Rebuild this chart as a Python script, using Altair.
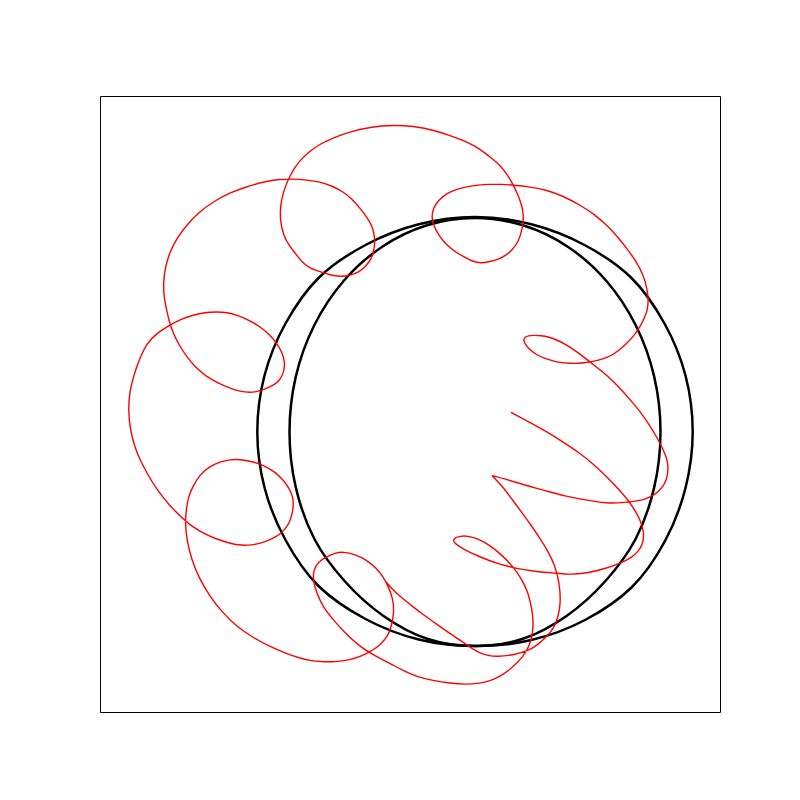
import altair as alt
import pandas as pd

# Red trajectory (pixel-like data units: x right, y down)
red_x = [511, 528, 546.7, 563, 580, 594, 606.7, 617, 626.7, 632, 636.7, 640.5, 643.3, 643.8, 642.5, 639, 632, 620, 604, 586.7, 570, 556.7, 535, 513.3, 498, 490, 477, 468, 460, 455, 453, 455, 460, 467, 480, 490, 502, 513, 521, 527, 530, 533, 533.3, 530, 523.3, 512, 500, 490, 480, 465, 450, 433, 416.7, 403, 390, 375, 360, 346, 333.3, 323, 316.7, 313, 313.5, 318, 326.7, 335, 343.3, 355, 366.7, 376, 383.3, 389, 393.3, 394, 391.5, 388, 381, 373.3, 362, 350, 335, 320, 310, 300, 285, 270, 253, 236.7, 222, 210, 199, 191.7, 187, 185, 186.5, 188.5, 192, 200, 210, 220, 230, 240, 252, 263.3, 275, 283.3, 289, 293, 293.5, 292, 289, 283, 276.7, 265, 253.3, 241, 230, 216, 203.3, 193, 184, 170, 157, 148, 140, 134, 130, 128.3, 129.5, 133.3, 139, 146.7, 157, 170, 181, 193.3, 205, 216.7, 227, 236.7, 249, 260, 269, 276.7, 282, 285, 284, 280, 274, 266.7, 258, 250, 240, 230, 218, 206.7, 196, 186.7, 179, 173.3, 169, 166.7, 164, 163.3, 165.5, 170, 177, 186.7, 199, 213.3, 229, 246.7, 263, 280, 293, 306.7, 320, 332, 343.3, 352, 360, 366.5, 371.7, 374, 375, 374, 371.7, 366.5, 360, 350, 340, 330, 320, 310, 302, 296.7, 289, 283.3, 280.5, 280, 283, 290, 299, 310, 320, 335, 350, 370, 393.3, 413, 433.3, 450, 466.7, 480, 490, 500, 507, 513.3, 518, 521.7, 523.3, 523.3, 521.5, 518.3, 513, 506.7, 499, 490, 480, 473, 466.7, 456, 446.7, 439, 433.3, 431.5, 433.3, 438.5, 446.7, 456, 466.7, 478, 490, 502, 513.3, 530, 546.7, 563, 580, 594, 606.7, 617, 626.7, 636, 643.3, 647, 648.5, 647.5, 645, 640, 633.3, 624, 613.3, 602, 590, 578, 570, 560, 553.3, 545, 536.7, 530, 525, 523.3, 525, 528.3, 533, 541, 549, 557, 566, 576, 587, 597, 607, 619, 630, 641, 650, 657, 663, 667, 668.3, 667.5, 665, 661, 656, 650, 643, 630, 617, 607, 595, 580, 565, 550, 535, 520, 505, 492, 492, 499, 506, 513, 521, 530, 541, 549, 554.5, 558, 560, 560.5, 558.3, 554, 546.7, 538, 530, 514, 496.7, 488, 480, 470, 459, 447, 435, 423, 412, 402, 393, 386]
red_y = [412.3, 421.5, 431.7, 442, 453.3, 464.5, 476.7, 487.5, 498.3, 506, 513.3, 521, 530, 537, 544, 550.5, 557.5, 563.3, 569, 573.3, 574.5, 573.3, 571.5, 568, 563.5, 561, 555.5, 551.5, 547, 543.5, 540.5, 537.5, 536.2, 535.7, 539.5, 545.5, 555, 566.7, 578, 590, 600, 615, 630, 645, 656.7, 668, 676.7, 681, 683.3, 684.5, 683.3, 680.5, 676.7, 670.5, 663.3, 656, 646.7, 634, 620, 607, 593.3, 580, 570, 562, 556.7, 553, 551.7, 554.5, 560, 568, 576.7, 588, 600, 613, 626, 636, 644, 650, 656, 660, 662, 661.7, 660.5, 658.3, 653, 646.7, 637.5, 626.7, 612, 596.7, 578, 560, 541, 523.3, 507, 497, 488, 474, 466.5, 461.7, 459.5, 459.3, 461.5, 465, 472, 480, 488, 497, 505, 515, 524, 531.5, 536.7, 542, 545, 545.5, 543.3, 539, 533.3, 527, 520, 506, 490, 475, 460, 445, 428, 410, 393, 376.7, 360, 343.3, 333, 325, 319, 315, 312.5, 311.7, 312.5, 315, 320, 326.7, 334, 343.3, 352, 361.7, 372, 380, 385, 388.3, 391.5, 392.7, 391.5, 388.3, 383, 376.7, 368, 356.7, 345, 333.3, 321, 310, 298, 281.7, 266, 251.7, 238, 225, 212, 201.7, 193, 186.7, 182, 179, 179, 180, 181.7, 186, 191.7, 199, 208.3, 216.5, 225, 233, 241.7, 250, 258.3, 265.5, 271.7, 275.5, 276.7, 275, 271.7, 268.3, 262, 255, 245.5, 235, 222, 208.3, 192, 175, 161, 151, 144, 137, 131.7, 127, 125, 126, 130, 135.5, 141.7, 149, 157, 165, 174, 185, 195, 205, 213.5, 221.7, 232, 241.7, 249, 255, 259, 261.7, 263.3, 261.5, 258.3, 252.5, 245, 236, 225, 216.5, 208.3, 200, 193.3, 189.5, 186.7, 185, 184.3, 184.3, 185, 187, 190, 196, 205, 214, 225, 236, 248.3, 261, 275, 288, 300, 310, 316.7, 327, 336.7, 346, 355, 359.5, 362, 363.5, 363.3, 362.5, 361, 358.5, 355, 350, 344, 340, 337, 335.7, 335.3, 335.5, 337, 340, 344.5, 351, 359.5, 367.5, 375.5, 387, 399.5, 412.5, 426, 437.5, 449, 459, 466.7, 476, 483.3, 489, 493.5, 497, 500, 502, 503, 503, 501.5, 499, 496, 492, 488, 483.5, 479, 475.5, 475.5, 483, 491, 500.5, 511.5, 523.5, 540, 553, 565, 577, 590, 603, 616.7, 628, 636.7, 644.5, 650, 655, 656.7, 655.5, 653.3, 647, 639.5, 631.5, 623, 614.5, 606, 598, 590, 582]

# Inner black closed curve (points read round the curve, every ~15 degrees)
inner_x = [660.5, 654.2, 635.6, 606.2, 567.75, 523, 475, 427, 382.25, 343.8, 314.4, 295.8, 289.5, 295.8, 314.4, 345, 383.5, 427, 475, 523, 566.5, 605, 635.6, 654.2]
inner_y = [432, 376.6, 325, 280.7, 246.7, 225.3, 218, 225.3, 246.7, 280.7, 325, 376.6, 432, 487.4, 539, 581.5, 616, 638.7, 646, 638.7, 616, 581.5, 539, 487.4]

# Outer black closed curve
outer_x = [692.7, 685.5, 664.5, 631, 584.5, 531.3, 475, 418.7, 365.5, 319, 285.5, 264.5, 257.3, 264.5, 285.5, 318.5, 365.5, 418.7, 475, 531.3, 585, 632, 665, 685.5]
outer_y = [431.5, 375.5, 323.5, 277.5, 245, 224.3, 217, 224.3, 245, 277.5, 323.5, 375.5, 431.5, 487.5, 540, 586, 619, 639.5, 646, 640, 620, 587, 541, 488]


def frame(xs, ys):
    return pd.DataFrame({"x": xs, "y": ys, "i": list(range(len(xs)))})


xscale = alt.Scale(domain=[100, 720], nice=False, zero=False)
yscale = alt.Scale(domain=[96, 712], nice=False, zero=False, reverse=True)


def curve(df, color, width, interp):
    return alt.Chart(df).mark_line(
        color=color, strokeWidth=width, interpolate=interp, clip=True
    ).encode(
        x=alt.X("x:Q", scale=xscale, axis=None),
        y=alt.Y("y:Q", scale=yscale, axis=None),
        order="i:Q",
    )


inner = curve(frame(inner_x, inner_y), "#000000", 2.5, "cardinal-closed")
outer = curve(frame(outer_x, outer_y), "#000000", 2.5, "cardinal-closed")
red = curve(frame(red_x, red_y), "#ff0000", 1.4, "basis")

chart = alt.layer(inner, outer, red).properties(
    width=620,
    height=616,
    padding={"left": 92, "top": 88, "right": 72, "bottom": 80},
    autosize=alt.AutoSizeParams(type="none"),
    background="white",
).configure_view(stroke="black", strokeWidth=1)

chart.save("out.html", embed_options={"renderer": "svg", "actions": False})
